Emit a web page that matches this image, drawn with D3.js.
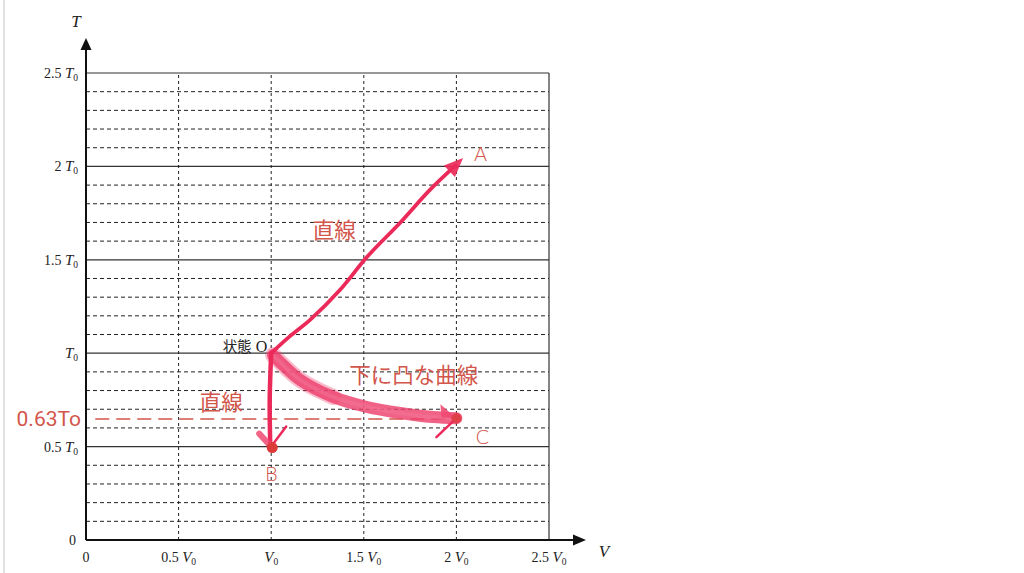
<!DOCTYPE html>
<html><head><meta charset="utf-8">
<script src="https://cdn.jsdelivr.net/npm/d3@7"></script>
<style>html,body{margin:0;padding:0;background:#fff;}svg{display:block;}</style>
</head><body>
<svg id="c" width="1024" height="573"></svg>
<script>
// ---- data ----
const xTicks = [0, 0.5, 1, 1.5, 2, 2.5];
const xCoef  = ["0", "0.5", "", "1.5", "2", "2.5"];
const yTicks = [0, 0.5, 1, 1.5, 2, 2.5];
const yCoef  = ["0", "0.5", "", "1.5", "2", "2.5"];
const minorT = [0.1,0.2,0.3,0.4,0.6,0.7,0.8,0.9,1.1,1.2,1.3,1.4,1.6,1.7,1.8,1.9,2.1,2.2,2.3,2.4];
const stateO = [1, 1];
const pathOA = [[1,1],[1.10,1.09],[1.21,1.178],[1.371,1.338],[1.517,1.515],[1.695,1.697],[1.857,1.874],[2.036,2.045]];
const pathOB = [[1,1],[0.992,0.75],[0.995,0.5]];
const pathOC = [[1.01,0.99],[1.05,0.95],[1.156,0.857],[1.334,0.766],[1.517,0.712],[1.695,0.68],[1.874,0.658],[2.0,0.652]];
const pointB = [1.0, 0.5];
const pointC = [2.0, 0.652];
const refT = 0.648;           // drawn position of the 0.63T0 reference line
const refLabel = "0.63To";
const labels = [
  {t:"直線", p:[1.34, 1.66]},
  {t:"下に凸な曲線", p:[1.77, 0.885]},
  {t:"直線", p:[0.73, 0.737]},
];
const pointLabels = [{t:"A", p:[2.13, 2.07]}, {t:"B", p:[1.0, 0.36]}, {t:"C", p:[2.14, 0.555]}];

// ---- scales ----
const svg = d3.select("#c");
const x = d3.scaleLinear().domain([0, 2.5]).range([86, 549]);
const y = d3.scaleLinear().domain([0, 2.5]).range([540, 73]);
const ink = "#222";
const serif = "'Liberation Serif','DejaVu Serif',serif";
const red = "#d2564b";
const pink = "#ec2a5a";

// page edge
svg.append("line").attr("x1",4).attr("x2",4).attr("y1",0).attr("y2",573).attr("stroke","#e2e2e2").attr("stroke-width",2);

// grid
const g = svg.append("g");
g.selectAll(".mn").data(minorT).join("line")
  .attr("x1", x(0)).attr("x2", x(2.5)).attr("y1", d => y(d)).attr("y2", d => y(d))
  .attr("stroke", ink).attr("stroke-width", 1).attr("stroke-dasharray", "4,3");
g.selectAll(".mj").data(yTicks.filter(d => d > 0)).join("line")
  .attr("x1", x(0)).attr("x2", x(2.5)).attr("y1", d => y(d)).attr("y2", d => y(d))
  .attr("stroke", "#333").attr("stroke-width", 1.2);
g.selectAll(".vv").data(xTicks.filter(d => d > 0 && d < 2.5)).join("line")
  .attr("y1", y(0)).attr("y2", y(2.5)).attr("x1", d => x(d)).attr("x2", d => x(d))
  .attr("stroke", ink).attr("stroke-width", 1).attr("stroke-dasharray", "3,3");
g.append("line").attr("x1", x(2.5)).attr("x2", x(2.5)).attr("y1", y(0)).attr("y2", y(2.5))
  .attr("stroke", "#333").attr("stroke-width", 1.2);

// axes with arrows
svg.append("line").attr("x1", x(0)).attr("x2", x(0)).attr("y1", y(0)).attr("y2", 46).attr("stroke", "#111").attr("stroke-width", 2);
svg.append("path").attr("d", `M${x(0)},38 L${x(0)-5.5},50 L${x(0)+5.5},50 Z`).attr("fill", "#111");
svg.append("line").attr("x1", x(0)).attr("x2", 578).attr("y1", y(0)).attr("y2", y(0)).attr("stroke", "#111").attr("stroke-width", 2);
svg.append("path").attr("d", `M586,${y(0)} L573,${y(0)-5.5} L573,${y(0)+5.5} Z`).attr("fill", "#111");

function tickLabel(sel, coef, sym) {
  if (coef === "0") { sel.append("tspan").text("0"); return; }
  if (coef) sel.append("tspan").text(coef + " ");
  sel.append("tspan").attr("font-style", "italic").attr("font-size", 15).text(sym);
  sel.append("tspan").attr("font-size", 9.5).attr("dy", 3).text("0");
}
// y tick labels
yTicks.forEach((v, i) => {
  const t = svg.append("text").attr("x", yCoef[i] === "0" ? 76 : 78).attr("y", y(v) + 5)
    .attr("text-anchor", "end").attr("font-family", serif).attr("font-size", 14).attr("fill", "#222");
  tickLabel(t, yCoef[i], "T");
});
// x tick labels
xTicks.forEach((v, i) => {
  const t = svg.append("text").attr("x", x(v)).attr("y", 562)
    .attr("text-anchor", "middle").attr("font-family", serif).attr("font-size", 14).attr("fill", "#222");
  tickLabel(t, xCoef[i], "V");
});
svg.append("text").attr("x", 76).attr("y", 27).attr("text-anchor", "middle").attr("font-family", serif)
  .attr("font-style", "italic").attr("font-size", 17).attr("fill", "#222").text("T");
svg.append("text").attr("x", 604).attr("y", 557).attr("text-anchor", "middle").attr("font-family", serif)
  .attr("font-style", "italic").attr("font-size", 17).attr("fill", "#222").text("V");

// state O label
const so = svg.append("text").attr("x", x(stateO[0]) - 4).attr("y", y(stateO[1]) - 1).attr("text-anchor", "end")
  .attr("fill", "#222");
so.append("tspan").attr("font-family", "'Noto Sans CJK JP'").attr("font-size", 14.5).text("状態");
so.append("tspan").attr("font-family", serif).attr("font-size", 16).text(" O");

// reference dashed line and label
svg.append("line").attr("x1", x(0.05)).attr("x2", x(2.02)).attr("y1", y(refT)).attr("y2", y(refT))
  .attr("stroke", red).attr("stroke-width", 1.4).attr("stroke-dasharray", "14,7");
svg.append("text").attr("x", 81).attr("y", y(refT) + 7.5).attr("text-anchor", "end")
  .attr("font-family", "Roboto, 'Noto Sans', sans-serif").attr("font-size", 21).attr("fill", red).text(refLabel);

const line = d3.line().x(d => x(d[0])).y(d => y(d[1])).curve(d3.curveCatmullRom);

// O -> C thick curve
svg.append("path").attr("d", line(pathOC)).attr("fill", "none").attr("stroke", "#ee3f6c")
  .attr("stroke-width", 12).attr("stroke-linecap", "round").attr("opacity", 0.82);
svg.append("path").attr("d", line(pathOC.slice(0, 4))).attr("fill", "none").attr("stroke", "#ee3f6c")
  .attr("stroke-width", 16).attr("stroke-linecap", "round").attr("opacity", 0.35);
svg.append("path").attr("d", line(pathOC)).attr("fill", "none").attr("stroke", "#f27a98")
  .attr("stroke-width", 4).attr("opacity", 0.45);

// O -> A
svg.append("path").attr("d", line(pathOA.slice(0, -1).concat([[pathOA[pathOA.length-1][0]-0.04, pathOA[pathOA.length-1][1]-0.04]])))
  .attr("fill", "none").attr("stroke", pink).attr("stroke-width", 3.8).attr("stroke-linecap", "round");
// O -> B
svg.append("path").attr("d", line(pathOB)).attr("fill", "none").attr("stroke", pink)
  .attr("stroke-width", 4.5).attr("stroke-linecap", "round");

// arrowheads
function head(tip, from, len, half) {
  const tx = x(tip[0]), ty = y(tip[1]), fx = x(from[0]), fy = y(from[1]);
  const a = Math.atan2(ty - fy, tx - fx);
  const bx = tx - len * Math.cos(a), by = ty - len * Math.sin(a);
  const px = -Math.sin(a) * half, py = Math.cos(a) * half;
  return `M${tx},${ty} L${bx+px},${by+py} L${bx-px},${by-py} Z`;
}
svg.append("path").attr("d", head(pathOA[pathOA.length-1], pathOA[pathOA.length-2], 19, 8)).attr("fill", pink).attr("opacity", 0.92);

// B arrow wings and dot
const bx = x(pointB[0]), by = y(pointB[1]);
svg.append("line").attr("x1", bx).attr("y1", by).attr("x2", bx - 12).attr("y2", by - 13)
  .attr("stroke", "#f04a72").attr("stroke-width", 6).attr("stroke-linecap", "round").attr("opacity", 0.85);
svg.append("line").attr("x1", bx).attr("y1", by).attr("x2", bx + 15).attr("y2", by - 20)
  .attr("stroke", pink).attr("stroke-width", 2.5).attr("stroke-linecap", "round");
svg.append("circle").attr("cx", bx + 1).attr("cy", by + 1).attr("r", 5.5).attr("fill", "#dd3a3a");

// C arrow wings and dot
const cx = x(pointC[0]), cy = y(pointC[1]);
svg.append("path").attr("d", `M${cx},${cy} L${cx-16},${cy-14} L${cx-15},${cy-1} Z`).attr("fill", "#f04a72").attr("opacity", 0.9);
svg.append("line").attr("x1", cx - 1).attr("y1", cy + 1).attr("x2", cx - 20).attr("y2", cy + 19)
  .attr("stroke", pink).attr("stroke-width", 2.5).attr("stroke-linecap", "round");
svg.append("circle").attr("cx", cx).attr("cy", cy).attr("r", 5).attr("fill", "#e04048");

// text labels
labels.forEach(l => svg.append("text").attr("x", x(l.p[0])).attr("y", y(l.p[1]) + 8)
  .attr("text-anchor", "middle").attr("font-family", "'Noto Sans CJK JP'").attr("font-size", 21.5)
  .attr("fill", red).text(l.t));
pointLabels.forEach(l => svg.append("text").attr("x", x(l.p[0])).attr("y", y(l.p[1]) + 8)
  .attr("text-anchor", "middle").attr("font-family", "'DejaVu Sans', sans-serif").attr("font-weight", 300)
  .attr("font-size", 20).attr("fill", red).text(l.t));
</script>
</body></html>
